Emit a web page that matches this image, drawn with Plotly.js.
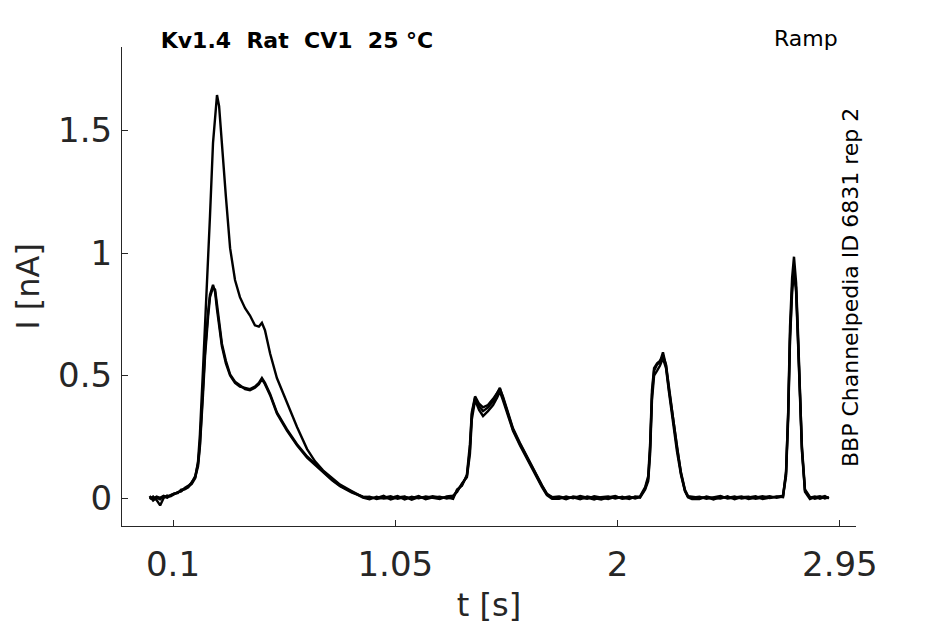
<!DOCTYPE html>
<html>
<head>
<meta charset="utf-8">
<script src="https://cdn.plot.ly/plotly-3.0.1.min.js"></script>
<style>html,body{margin:0;padding:0;background:#fff;}#chart{width:945px;height:624px;}</style>
</head>
<body>
<div id="chart"></div>
<script>
// time [s]
const t = [
  0.000, 0.015, 0.030, 0.045, 0.060, 0.075, 0.090, 0.105, 0.120, 0.135, 0.150, 0.165, 0.180, 0.195,
  0.207, 0.215, 0.228, 0.237, 0.250, 0.258, 0.271, 0.280, 0.288, 0.297, 0.309, 0.326, 0.344, 0.365, 0.386, 0.408, 0.429, 0.450, 0.467, 0.480, 0.493, 0.515, 0.544, 0.587, 0.630, 0.673, 0.707, 0.741, 0.780, 0.814, 0.865, 0.912,
  0.94, 0.97, 1.00, 1.03, 1.06, 1.09, 1.12, 1.15, 1.18, 1.21, 1.24, 1.27, 1.297,
  1.314, 1.335, 1.356, 1.369, 1.377, 1.391, 1.408, 1.425, 1.446, 1.468, 1.485, 1.497, 1.510, 1.532, 1.553, 1.583, 1.613, 1.634, 1.656, 1.677, 1.698, 1.720,
  1.75, 1.78, 1.81, 1.84, 1.87, 1.90, 1.93, 1.96, 1.99, 2.02, 2.05, 2.075, 2.096,
  2.118, 2.131, 2.139, 2.147, 2.156, 2.169, 2.181, 2.194, 2.207, 2.220, 2.237, 2.254, 2.271, 2.288, 2.301, 2.318,
  2.35, 2.38, 2.41, 2.44, 2.47, 2.50, 2.53, 2.56, 2.59, 2.62, 2.65, 2.68, 2.707,
  2.720, 2.729, 2.737, 2.746, 2.754, 2.763, 2.771, 2.780, 2.788, 2.801, 2.822, 2.843, 2.865, 2.886, 2.903
];
// current [nA], sweep 1 (large first peak)
const sweep1 = [
  0.004, -0.003, 0.006, 0.001, 0.009, 0.004, 0.012, 0.016, 0.022, 0.030, 0.038, 0.046, 0.058, 0.082,
  0.15, 0.26, 0.52, 0.70, 0.96, 1.15, 1.45, 1.57, 1.645, 1.60, 1.43, 1.23, 1.02, 0.89, 0.82, 0.775, 0.745, 0.705, 0.70, 0.715, 0.685, 0.59, 0.49, 0.39, 0.29, 0.20, 0.15, 0.113, 0.08, 0.055, 0.028, 0.004,
  0.006, -0.004, 0.002, 0.007, -0.003, 0.004, 0.000, 0.008, -0.005, 0.003, 0.006, -0.002, 0.004,
  0.03, 0.055, 0.09, 0.20, 0.34, 0.41, 0.375, 0.355, 0.37, 0.395, 0.425, 0.45, 0.41, 0.34, 0.28, 0.22, 0.165, 0.125, 0.085, 0.05, 0.015, 0.002,
  0.004, -0.005, 0.006, 0.000, -0.003, 0.007, 0.002, -0.004, 0.005, 0.001, 0.006, -0.002, 0.004,
  0.04, 0.08, 0.20, 0.42, 0.52, 0.545, 0.555, 0.595, 0.54, 0.44, 0.32, 0.20, 0.10, 0.03, 0.006, 0.002,
  0.005, -0.003, 0.004, 0.008, -0.002, 0.003, 0.006, -0.004, 0.002, 0.007, 0.000, 0.005, 0.010,
  0.10, 0.35, 0.70, 0.90, 0.985, 0.88, 0.68, 0.42, 0.20, 0.03, 0.002, 0.006, -0.003, 0.005, 0.001
];
// sweep 2
const sweep2 = [
  -0.004, 0.006, -0.008, -0.030, 0.000, 0.010, 0.007, 0.014, 0.024, 0.027, 0.041, 0.050, 0.062, 0.090,
  0.14, 0.22, 0.45, 0.60, 0.76, 0.83, 0.87, 0.84, 0.77, 0.70, 0.62, 0.55, 0.50, 0.47, 0.455, 0.45, 0.445, 0.455, 0.47, 0.49, 0.47, 0.425, 0.35, 0.28, 0.22, 0.17, 0.14, 0.11, 0.075, 0.05, 0.025, 0.002,
  -0.005, 0.005, -0.002, 0.001, 0.008, -0.006, 0.005, -0.001, 0.006, 0.000, -0.004, 0.007, 0.010,
  0.025, 0.06, 0.085, 0.18, 0.32, 0.40, 0.36, 0.335, 0.355, 0.38, 0.41, 0.435, 0.40, 0.335, 0.275, 0.215, 0.16, 0.12, 0.08, 0.045, 0.012, -0.003,
  -0.003, 0.006, -0.001, 0.008, 0.002, -0.006, 0.004, 0.007, -0.002, 0.005, -0.004, 0.006, 0.002,
  0.035, 0.07, 0.18, 0.40, 0.50, 0.52, 0.54, 0.57, 0.53, 0.43, 0.31, 0.19, 0.095, 0.028, 0.003, -0.004,
  -0.004, 0.006, 0.000, -0.002, 0.007, -0.005, 0.004, 0.006, -0.003, 0.002, 0.008, 0.001, 0.006,
  0.09, 0.32, 0.64, 0.84, 0.93, 0.84, 0.64, 0.40, 0.19, 0.025, -0.004, 0.004, 0.007, -0.002, 0.004
];
// sweep 3
const sweep3 = [
  0.008, -0.010, 0.002, -0.005, 0.007, 0.002, 0.011, 0.019, 0.020, 0.034, 0.036, 0.044, 0.065, 0.085,
  0.13, 0.21, 0.42, 0.58, 0.74, 0.82, 0.86, 0.85, 0.79, 0.72, 0.63, 0.56, 0.505, 0.475, 0.46, 0.445, 0.44, 0.45, 0.465, 0.485, 0.465, 0.42, 0.345, 0.275, 0.215, 0.165, 0.135, 0.105, 0.072, 0.048, 0.022, 0.006,
  0.002, 0.000, 0.009, -0.006, 0.003, 0.006, -0.007, 0.004, 0.001, 0.008, 0.002, 0.003, -0.003,
  0.035, 0.05, 0.095, 0.22, 0.35, 0.415, 0.385, 0.37, 0.38, 0.405, 0.43, 0.445, 0.415, 0.345, 0.285, 0.225, 0.17, 0.128, 0.088, 0.052, 0.018, 0.004,
  0.007, 0.000, 0.003, -0.005, 0.006, 0.001, -0.006, 0.003, 0.008, -0.003, 0.002, 0.004, 0.007,
  0.045, 0.09, 0.22, 0.44, 0.53, 0.55, 0.56, 0.58, 0.545, 0.445, 0.325, 0.205, 0.105, 0.034, 0.008, 0.005,
  0.002, 0.004, -0.006, 0.005, 0.001, 0.006, -0.002, 0.003, 0.007, -0.004, 0.003, 0.007, 0.004,
  0.11, 0.34, 0.66, 0.86, 0.90, 0.86, 0.66, 0.41, 0.21, 0.035, 0.005, -0.003, 0.002, 0.008, -0.002
];
const xTicks = [0.1, 1.05, 2, 2.95];
const xTickText = ['0.1', '1.05', '2', '2.95'];
const yTicks = [0, 0.5, 1, 1.5];
const yTickText = ['0', '0.5', '1', '1.5'];

const font = 'DejaVu Sans, sans-serif';
const ink = '#262626';

const traces = [sweep1, sweep2, sweep3].map(function (y) {
  return { x: t, y: y, type: 'scatter', mode: 'lines',
           line: { color: '#000000', width: 2.4 }, hoverinfo: 'skip', showlegend: false };
});

const layout = {
  width: 945, height: 624,
  paper_bgcolor: '#ffffff', plot_bgcolor: '#ffffff',
  margin: { l: 122, r: 89, t: 47, b: 98 },
  font: { family: font, color: ink },
  title: { text: '<b>Kv1.4&nbsp; Rat&nbsp; CV1&nbsp; 25 °C</b>', font: { family: font, size: 22, color: '#000' },
           xref: 'container', yref: 'container', x: 297 / 945, xanchor: 'center', y: 1 - 40 / 624, yanchor: 'middle' },
  xaxis: {
    range: [-0.118, 3.019], tickmode: 'array', tickvals: xTicks, ticktext: xTickText,
    ticks: 'inside', ticklen: 6, tickwidth: 1, tickcolor: ink,
    showline: true, linecolor: ink, linewidth: 1, showgrid: false, zeroline: false,
    tickfont: { family: font, size: 34, color: ink }, ticklabelstandoff: 8,
    title: { text: 't [s]', font: { family: font, size: 32, color: ink }, standoff: 16 },
    fixedrange: true
  },
  yaxis: {
    range: [-0.114, 1.841], tickmode: 'array', tickvals: yTicks, ticktext: yTickText,
    ticks: 'inside', ticklen: 6, tickwidth: 1, tickcolor: ink,
    showline: true, linecolor: ink, linewidth: 1, showgrid: false, zeroline: false,
    tickfont: { family: font, size: 34, color: ink }, ticklabelstandoff: 2,
    title: { text: 'I [nA]', font: { family: font, size: 32, color: ink }, standoff: 8 },
    fixedrange: true
  },
  annotations: [
    { text: 'Ramp', xref: 'paper', yref: 'paper', x: (806 - 122) / 734, y: (526 - 39) / 479,
      xanchor: 'center', yanchor: 'middle', showarrow: false, font: { family: font, size: 22, color: '#000' } },
    { text: 'BBP Channelpedia ID 6831 rep 2', xref: 'paper', yref: 'paper', x: (850 - 122) / 734, y: (526 - 288) / 479,
      xanchor: 'center', yanchor: 'middle', textangle: -90, showarrow: false, font: { family: font, size: 22, color: '#000' } }
  ]
};

Plotly.newPlot('chart', traces, layout, { displayModeBar: false, staticPlot: true });
</script>
</body>
</html>
